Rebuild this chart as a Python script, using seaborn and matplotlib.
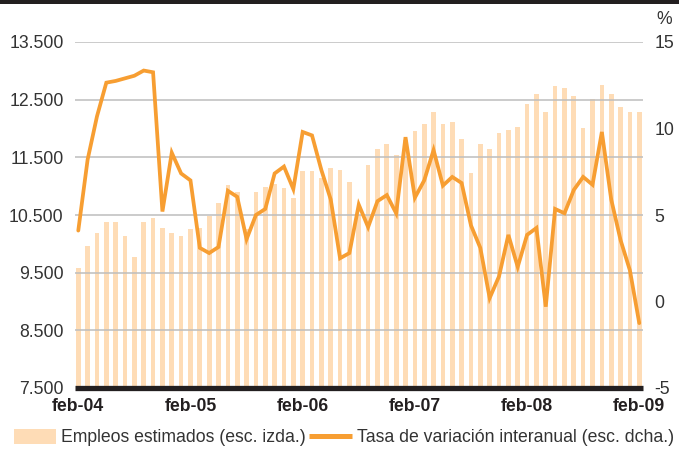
import numpy as np
import pandas as pd
import seaborn as sns
import matplotlib.pyplot as plt
from matplotlib.patches import Patch, Rectangle
from matplotlib.lines import Line2D

# meses feb-04 .. feb-09
meses = pd.date_range("2004-02-01", periods=61, freq="MS")

empleos = [9580, 9970, 10190, 10380, 10370, 10140, 9780, 10380, 10440, 10280,
           10180, 10140, 10250, 10280, 10490, 10710, 11020, 10900, 10250, 10900,
           10985, 11040, 10970, 10800, 11270, 11270, 11150, 11315, 11280, 11080,
           10500, 11365, 11640, 11730, 11540, 11800, 11960, 12080, 12290, 12080,
           12115, 11820, 11220, 11730, 11640, 11920, 11975, 12030, 12430, 12600,
           12290, 12740, 12700, 12560, 12010, 12510, 12760, 12600, 12380, 12290,
           12290]

tasa = [4.1, 8.2, 10.7, 12.65, 12.75, 12.9, 13.05, 13.35, 13.25, 5.2,
        8.6, 7.4, 7.0, 3.1, 2.8, 3.15, 6.4, 6.05, 3.6, 5.0,
        5.35, 7.4, 7.8, 6.5, 9.8, 9.6, 7.6, 5.9, 2.5, 2.8,
        5.6, 4.3, 5.8, 6.15, 5.1, 9.5, 6.0, 7.0, 8.75, 6.7,
        7.2, 6.85, 4.4, 3.1, 0.2, 1.45, 3.85, 2.0, 3.85, 4.25,
        -0.3, 5.35, 5.1, 6.45, 7.2, 6.75, 9.8, 5.9, 3.55, 1.8,
        -1.25]

etiquetas_x = ["feb-04", "feb-05", "feb-06", "feb-07", "feb-08", "feb-09"]
ticks_izq = [7500, 8500, 9500, 10500, 11500, 12500, 13500]
etiquetas_izq = ["7.500", "8.500", "9.500", "10.500", "11.500", "12.500", "13.500"]
ticks_dcha = [-5, 0, 5, 10, 15]

col_barra = "#FEDCB6"
col_linea = "#F79E32"
col_texto = "#333333"
col_negro = "#231F20"
fs = 12.7

df = pd.DataFrame({"mes": meses.strftime("%Y-%m"), "empleos": empleos, "tasa": tasa})
df["pos"] = np.arange(len(df))

sns.set_style("white")
plt.rcParams["font.family"] = ["Liberation Sans", "DejaVu Sans"]
plt.rcParams["axes.unicode_minus"] = False

fig = plt.figure(figsize=(6.79, 4.5), dpi=100)
ax = fig.add_axes([75 / 679, 1 - 388 / 450, (643 - 75) / 679, (388 - 42) / 450])

sns.barplot(data=df, x="mes", y="empleos", color=col_barra, saturation=1,
            width=0.5, linewidth=0, ax=ax, zorder=1)

xlim = (-0.35, 60.4)
ax.set_xlim(xlim)
ax.set_ylim(7500, 13500)
ax.set_yticks(ticks_izq, etiquetas_izq)
ax.set_xticks(df["pos"][::12], etiquetas_x)
for v in ticks_izq[1:]:
    ax.axhline(v, color="#BDBDBD", lw=1.1, zorder=2)
ax.axhline(7500, color=col_negro, lw=3.8, zorder=3, clip_on=False,
           solid_capstyle="butt")
ax.set_xlabel("")
ax.set_ylabel("")
ax.tick_params(axis="y", length=0, pad=8.2, labelsize=fs, labelcolor=col_texto)
ax.tick_params(axis="x", length=0, pad=7.5, labelsize=fs, labelcolor=col_negro)
for t in ax.get_xticklabels():
    t.set_fontweight("bold")
sns.despine(ax=ax, left=True, bottom=True)

ax2 = ax.twinx()
sns.lineplot(data=df, x="pos", y="tasa", color=col_linea, lw=2.7,
             solid_joinstyle="miter", ax=ax2)
ax2.set_xlim(xlim)
ax2.set_ylim(-5, 15)
ax2.set_yticks(ticks_dcha)
ax2.set_ylabel("")
ax2.tick_params(axis="y", length=0, pad=8.2, labelsize=fs, labelcolor=col_texto)
for s in ax2.spines.values():
    s.set_visible(False)

fig.text(656 / 679, 1 - 19 / 450, "%", fontsize=fs, color=col_texto, va="center")
fig.add_artist(Rectangle((0, 1 - 4 / 450), 1, 4 / 450, transform=fig.transFigure,
                         color=col_negro, lw=0))

handles = [Patch(facecolor=col_barra, lw=0),
           Line2D([0], [0], color=col_linea, lw=3.6, solid_capstyle="butt")]
fig.legend(handles, ["Empleos estimados (esc. izda.)",
                     "Tasa de variación interanual (esc. dcha.)"],
           loc="lower left", bbox_to_anchor=(10 / 679, 0.0), ncol=2, frameon=False,
           fontsize=fs, labelcolor=col_texto, handlelength=2.4, handleheight=0.9,
           handletextpad=0.3, columnspacing=0.2, borderaxespad=0.1, borderpad=0.1)

fig.savefig("out.png", dpi=100)
